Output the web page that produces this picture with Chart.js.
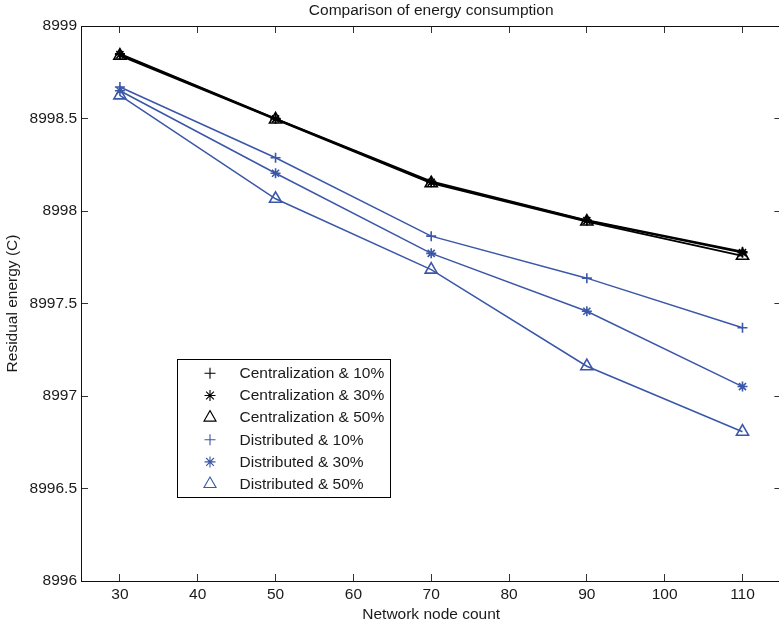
<!DOCTYPE html>
<html><head><meta charset="utf-8">
<script src="https://cdn.jsdelivr.net/npm/chart.js@4/dist/chart.umd.min.js"></script>
<style>
html,body{margin:0;padding:0;background:#fff;overflow:hidden;width:779px;height:626px}
#wrap{position:absolute;left:0;top:0;width:790px;height:626px}
</style>
</head><body><div id="wrap"><canvas id="c" width="790" height="626"></canvas></div>
<script>
// ---- data ----
const nodeCounts = [30, 50, 70, 90, 110];
const central10 = [8998.850, 8998.500, 8998.160, 8997.950, 8997.780];
const central30 = [8998.845, 8998.498, 8998.155, 8997.948, 8997.775];
const central50 = [8998.840, 8998.495, 8998.150, 8997.943, 8997.758];
const distrib10 = [8998.670, 8998.288, 8997.864, 8997.637, 8997.369];
const distrib30 = [8998.650, 8998.204, 8997.771, 8997.458, 8997.051];
const distrib50 = [8998.625, 8998.066, 8997.683, 8997.161, 8996.807];
const seriesLabels = ['Centralization & 10%', 'Centralization & 30%', 'Centralization & 50%',
                      'Distributed & 10%', 'Distributed & 30%', 'Distributed & 50%'];
const xTickValues = [30, 40, 50, 60, 70, 80, 90, 100, 110];
const yTickValues = [8996, 8996.5, 8997, 8997.5, 8998, 8998.5, 8999];
const titleText = 'Comparison of energy consumption';
const xTitle = 'Network node count';
const yTitle = 'Residual energy (C)';

// ---- styling ----
const FONT = {family: "'Liberation Sans', Arial, Helvetica, sans-serif", size: 15.5, weight: 'normal'};
const TXT = '#1a1a1a';
const BLACK = '#000000';
const BLUE = 'rgb(59,87,168)';
const pts = arr => nodeCounts.map((x, i) => ({x: x, y: arr[i]}));
const markers = [
  {style: 'cross', r: 5},
  {style: 'star', r: 5},
  {style: 'triangle', r: 7}
];
const allSeries = [central10, central30, central50, distrib10, distrib30, distrib50];
const datasets = allSeries.map((arr, i) => {
  const col = i < 3 ? BLACK : BLUE;
  const m = markers[i % 3];
  return {
    label: seriesLabels[i],
    data: pts(arr),
    borderColor: col,
    backgroundColor: col,
    borderWidth: i < 3 ? 1.8 : 1.5,
    tension: 0,
    pointStyle: m.style,
    pointRadius: m.r,
    pointHoverRadius: m.r,
    pointBorderColor: col,
    pointBackgroundColor: 'rgba(0,0,0,0)',
    pointBorderWidth: 1.6
  };
});

const gridOpts = {drawOnChartArea: false, drawTicks: true, tickLength: -7, tickColor: '#333', tickWidth: 1};
const borderOpts = {display: true, color: '#111', width: 1};

const boxLegend = {
  id: 'boxLegend',
  afterDatasetsDraw(chart) {
    const ctx = chart.ctx;
    const ca = chart.chartArea;
    const L = ca.left + 96.5, T = ca.top + 333.5, W = 213, H = 138;
    ctx.save();
    ctx.fillStyle = '#fff';
    ctx.fillRect(L, T, W, H);
    ctx.strokeStyle = '#000';
    ctx.lineWidth = 1;
    ctx.strokeRect(L, T, W, H);
    ctx.font = FONT.size + 'px ' + FONT.family;
    ctx.textBaseline = 'middle';
    ctx.textAlign = 'left';
    chart.data.datasets.forEach((ds, i) => {
      const y = T + 13.8 + i * 22.15;
      ctx.strokeStyle = ds.pointBorderColor;
      ctx.fillStyle = 'rgba(0,0,0,0)';
      ctx.lineWidth = 1.1;
      Chart.helpers.drawPoint(ctx, {pointStyle: ds.pointStyle, radius: ds.pointStyle === 'triangle' ? 7 : 5.5, rotation: 0, borderWidth: 1.1}, L + 32.5, y);
      ctx.fillStyle = TXT;
      ctx.fillText(ds.label, L + 62, y + 0.5);
    });
    ctx.restore();
  }
};

new Chart(document.getElementById('c'), {
  type: 'line',
  data: {datasets: datasets},
  plugins: [boxLegend],
  options: {
    responsive: false,
    animation: false,
    devicePixelRatio: 1,
    layout: {padding: {left: 0, right: 6, top: 0, bottom: 0}},
    plugins: {
      legend: {display: false},
      tooltip: {enabled: false},
      title: {display: true, text: titleText, font: FONT, color: TXT, fullSize: false, padding: {top: 1, bottom: 6.4}}
    },
    scales: {
      x: {
        type: 'linear', position: 'bottom', min: 25, max: 115,
        afterBuildTicks: s => { s.ticks = xTickValues.map(v => ({value: v})); },
        afterFit: s => { s.height = 45; },
        ticks: {color: TXT, font: FONT, padding: 11, maxRotation: 0, autoSkip: false, callback: v => String(v)},
        grid: gridOpts, border: borderOpts,
        title: {display: true, text: xTitle, font: FONT, color: TXT, padding: {top: 0, bottom: 2}}
      },
      x2: {
        type: 'linear', position: 'top', min: 25, max: 115,
        afterBuildTicks: s => { s.ticks = xTickValues.map(v => ({value: v})); },
        afterFit: s => { s.height = 0; },
        ticks: {display: false},
        grid: gridOpts, border: borderOpts
      },
      y: {
        type: 'linear', position: 'left', min: 8996, max: 8999,
        afterBuildTicks: s => { s.ticks = yTickValues.map(v => ({value: v})); },
        afterFit: s => { s.width = 81; },
        ticks: {color: TXT, font: FONT, padding: 11, autoSkip: false, callback: v => String(v)},
        grid: gridOpts, border: borderOpts,
        title: {display: true, text: yTitle, font: FONT, color: TXT, padding: {top: 3, bottom: 0}}
      },
      y2: {
        type: 'linear', position: 'right', min: 8996, max: 8999,
        afterBuildTicks: s => { s.ticks = yTickValues.map(v => ({value: v})); },
        afterFit: s => { s.width = 0; },
        ticks: {display: false},
        grid: gridOpts, border: borderOpts
      }
    }
  }
});
</script>
</body></html>
